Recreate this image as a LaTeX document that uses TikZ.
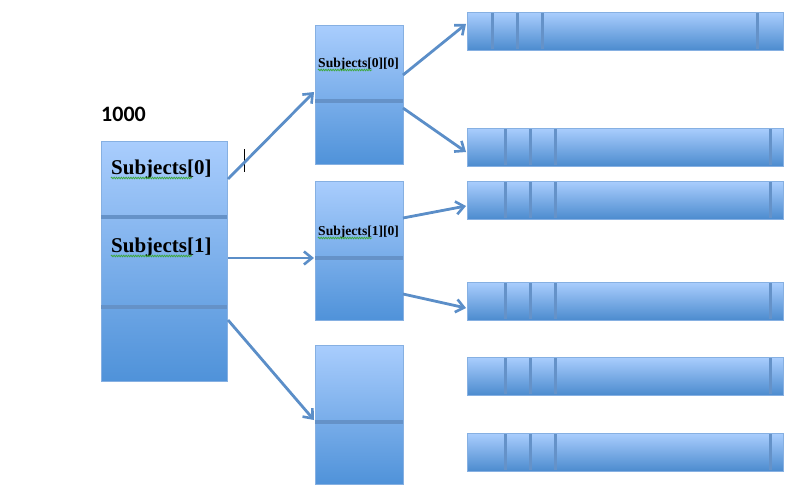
\documentclass[tikz,border=0pt]{standalone}
\usepackage{fontspec}
\setmainfont{Liberation Serif}
\newfontfamily\numfont{Carlito}
\usetikzlibrary{arrows.meta,decorations.pathmorphing}
\definecolor{boxtop}{HTML}{A9CDFD}
\definecolor{boxbot}{HTML}{4F92D9}
\definecolor{boxedge}{HTML}{86B0E2}
\definecolor{divc}{HTML}{6592C8}
\definecolor{arrc}{HTML}{5B8EC8}
\definecolor{squig}{HTML}{3FA83F}
\tikzset{
  cellbox/.style={draw=boxedge, line width=1pt, top color=boxtop, bottom color=boxbot},
  barbox/.style={draw=boxedge, line width=1pt, top color=boxtop, bottom color=boxbot!95!black},
  divline/.style={draw=divc, line width=3.6pt},
  bardiv/.style={draw=divc, line width=3pt},
  ptr/.style={draw=arrc, line width=2.8pt, -{Straight Barb[length=8pt,width=13pt,line width=2.6pt]}},
  bigtxt/.style={font=\bfseries\fontsize{21}{23}\selectfont, inner sep=0pt, anchor=base west},
  smalltxt/.style={font=\bfseries\fontsize{13.6}{15}\selectfont, inner sep=0pt, anchor=base west},
  wavy/.style={draw=squig, line width=0.8pt, decorate, decoration={snake, amplitude=0.8pt, segment length=2.4pt}}
}
\begin{document}
\begin{tikzpicture}[x=1pt,y=-1pt]
\useasboundingbox (0,0) rectangle (795,503);
% left array
\node[cellbox, minimum width=126pt, minimum height=240pt, inner sep=0pt, anchor=north west] (L) at (101,141) {};
\draw[divline] (101,217) -- (227,217);
\draw[divline] (101,307) -- (227,307);
\node[font=\numfont\bfseries\fontsize{22}{24}\selectfont, inner sep=0pt, anchor=base west] (t1000) at (101,121) {1000};
\node[bigtxt] (s0) at (111,174) {Subjects[0]};
\node[bigtxt] (s1) at (111,252) {Subjects[1]};
\draw[wavy] (111,178) -- (192,178);
\draw[wavy] (111,256) -- (192,256);
\draw[black, line width=1pt] (244,149) -- (244,172);
% middle arrays
\node[cellbox, minimum width=88pt, minimum height=139pt, inner sep=0pt, anchor=north west] (A) at (315,25) {};
\draw[divline] (315,101) -- (403,101);
\node[cellbox, minimum width=88pt, minimum height=139pt, inner sep=0pt, anchor=north west] (B) at (315,181) {};
\draw[divline] (315,258) -- (403,258);
\node[cellbox, minimum width=88pt, minimum height=139pt, inner sep=0pt, anchor=north west] (C) at (315,345) {};
\draw[divline] (315,422) -- (403,422);
\node[smalltxt] (s00) at (318,67) {Subjects[0][0]};
\node[smalltxt] (s10) at (318,235) {Subjects[1][0]};
\draw[wavy] (318,70) -- (372,70);
\draw[wavy] (318,238) -- (372,238);
% right bars
\node[barbox, minimum width=316pt, minimum height=38pt, inner sep=0pt, anchor=north west] (R1) at (467,12) {};
\foreach \x in {492,517,542,757} \draw[bardiv] (\x,13) -- (\x,49);
\foreach \y/\n in {128/R2,181/R3,282/R4,357/R5,433/R6}{
  \node[barbox, minimum width=316pt, minimum height=38pt, inner sep=0pt, anchor=north west] (\n) at (467,\y) {};
  \foreach \x in {505,530,555,770} \draw[bardiv] (\x,\y+1) -- (\x,\y+37);
}
% pointers
\coordinate (a1s) at (228,179); \coordinate (a1e) at (314,92);
\coordinate (a2s) at (228,258); \coordinate (a2e) at (314,258);
\coordinate (a3s) at (228,320); \coordinate (a3e) at (314,420);
\coordinate (b1s) at (403,75);  \coordinate (b1e) at (466,24);
\coordinate (b2s) at (403,108); \coordinate (b2e) at (466,152);
\coordinate (c1s) at (403,218); \coordinate (c1e) at (466,206);
\coordinate (c2s) at (403,294); \coordinate (c2e) at (466,308);
\draw[ptr] (a1s) -- (a1e);
\draw[ptr] (a2s) -- (a2e);
\draw[ptr] (a3s) -- (a3e);
\draw[ptr] (b1s) -- (b1e);
\draw[ptr] (b2s) -- (b2e);
\draw[ptr] (c1s) -- (c1e);
\draw[ptr] (c2s) -- (c2e);
\end{tikzpicture}
\end{document}
